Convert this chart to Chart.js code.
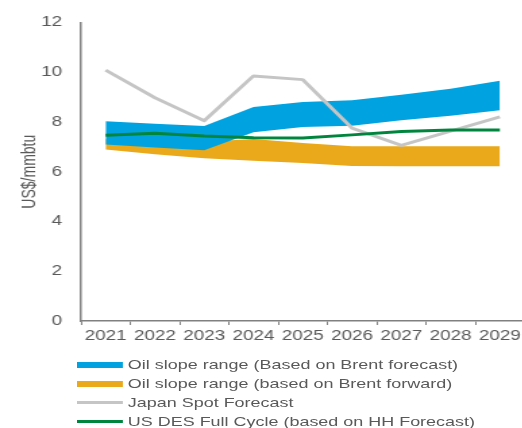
<!DOCTYPE html>
<html>
<head>
<meta charset="utf-8">
<title>LNG price outlook</title>
<script src="https://cdn.jsdelivr.net/npm/chart.js@4.4.0/dist/chart.umd.min.js"></script>
<style>
  body { margin: 0; background: #fff; overflow: hidden; }
  /* chart text in this style is set wide, so the whole block is stretched sideways */
  #wrap { position: relative; width: 390px; height: 428px; transform: scaleX(1.35); transform-origin: 0 0; }
  #lngChart { position: absolute; left: 0; top: 0; }
  #legend { position: absolute; left: 57px; top: 355.6px; font: 13.3px "Liberation Sans", Arial, sans-serif; color: #595959; }
  .row { display: flex; align-items: center; height: 18.7px; white-space: nowrap; }
  .swatch { width: 34px; margin-right: 3.7px; }
</style>
</head>
<body>
<div id="wrap">
  <canvas id="lngChart" width="390" height="428"></canvas>
  <div id="legend"></div>
</div>
<script>
const years = ["2021", "2022", "2023", "2024", "2025", "2026", "2027", "2028", "2029"];

// oil slope range, Brent forecast (high / low edge of the band)
const brentForecastHigh = [8.03, 7.93, 7.84, 8.60, 8.80, 8.87, 9.09, 9.33, 9.66];
const brentForecastLow  = [7.09, 6.97, 6.86, 7.59, 7.80, 7.85, 8.07, 8.25, 8.47];

// oil slope range, Brent forward
const brentForwardHigh = [7.30, 7.25, 7.20, 7.31, 7.15, 7.02, 7.02, 7.02, 7.02];
const brentForwardLow  = [6.89, 6.70, 6.54, 6.44, 6.35, 6.23, 6.22, 6.22, 6.22];

const japanSpot      = [10.08, 8.97, 8.05, 9.85, 9.70, 7.75, 7.06, 7.63, 8.20];
const usDesFullCycle = [7.46, 7.55, 7.43, 7.36, 7.35, 7.48, 7.62, 7.68, 7.68];

const yTicks = [0, 2, 4, 6, 8, 10, 12];

const BLUE = "rgb(0,163,224)";
const ORANGE = "rgb(234,169,27)";
const GREY = "rgb(197,197,197)";
const GREEN = "rgb(0,133,62)";
const TEXT = "#595959";
const AXIS = "#808080";

const legendItems = [
    { label: "Oil slope range (Based on Brent forecast)", color: BLUE, band: true },
    { label: "Oil slope range (based on Brent forward)", color: ORANGE, band: true },
    { label: "Japan Spot Forecast", color: GREY, band: false },
    { label: "US DES Full Cycle (based on HH Forecast)", color: GREEN, band: false }
];

Chart.defaults.font.family = '"Liberation Sans", Arial, sans-serif';
Chart.defaults.color = TEXT;

function bandEdge(data, color, fill) {
    return {
        data: data,
        fill: fill,
        backgroundColor: color,
        borderColor: "rgba(0,0,0,0)",
        borderWidth: 0,
        pointRadius: 0,
        tension: 0
    };
}

function line(label, data, color) {
    return {
        label: label,
        data: data,
        fill: false,
        borderColor: color,
        borderWidth: 3,
        pointRadius: 0,
        tension: 0,
        borderJoinStyle: "round"
    };
}

const ctx = document.getElementById("lngChart").getContext("2d");

// lower index is painted last, so the lines sit on top of the bands
new Chart(ctx, {
    type: "line",
    data: {
        labels: years,
        datasets: [
            line(legendItems[3].label, usDesFullCycle, GREEN),
            line(legendItems[2].label, japanSpot, GREY),
            bandEdge(brentForecastHigh, BLUE, "+1"),
            bandEdge(brentForecastLow, BLUE, false),
            bandEdge(brentForwardHigh, ORANGE, "+1"),
            bandEdge(brentForwardLow, ORANGE, false)
        ]
    },
    options: {
        responsive: false,
        animation: false,
        layout: { padding: { top: 18, right: 1.5, bottom: 83, left: 0 } },
        plugins: {
            legend: { display: false },
            tooltip: { enabled: false }
        },
        scales: {
            x: {
                offset: true,
                grid: { offset: true, drawOnChartArea: false, drawTicks: true, tickLength: 4, color: AXIS, lineWidth: 1 },
                border: { display: true, color: AXIS, width: 1.5 },
                ticks: { color: TEXT, font: { size: 14 }, padding: 3, maxRotation: 0, autoSkip: false },
                afterFit: function (scale) { scale.height = 24; }
            },
            y: {
                min: 0,
                max: 12,
                afterBuildTicks: function (scale) { scale.ticks = yTicks.map(v => ({ value: v })); },
                grid: { drawOnChartArea: false, drawTicks: false },
                border: { display: true, color: AXIS, width: 1.5 },
                ticks: { color: TEXT, font: { size: 14 }, padding: 14 },
                title: {
                    display: true,
                    text: "US$/mmbtu",
                    color: TEXT,
                    font: { size: 14 },
                    padding: { top: 14, bottom: 0 }
                },
                afterFit: function (scale) { scale.width = 60; }
            }
        }
    }
});

// legend under the plot, one entry per row
const legendBox = document.getElementById("legend");
legendItems.forEach(item => {
    const row = document.createElement("div");
    row.className = "row";
    const swatch = document.createElement("span");
    swatch.className = "swatch";
    swatch.style.background = item.color;
    swatch.style.height = item.band ? "6px" : "3px";
    const text = document.createElement("span");
    text.textContent = item.label;
    row.appendChild(swatch);
    row.appendChild(text);
    legendBox.appendChild(row);
});
</script>
</body>
</html>
